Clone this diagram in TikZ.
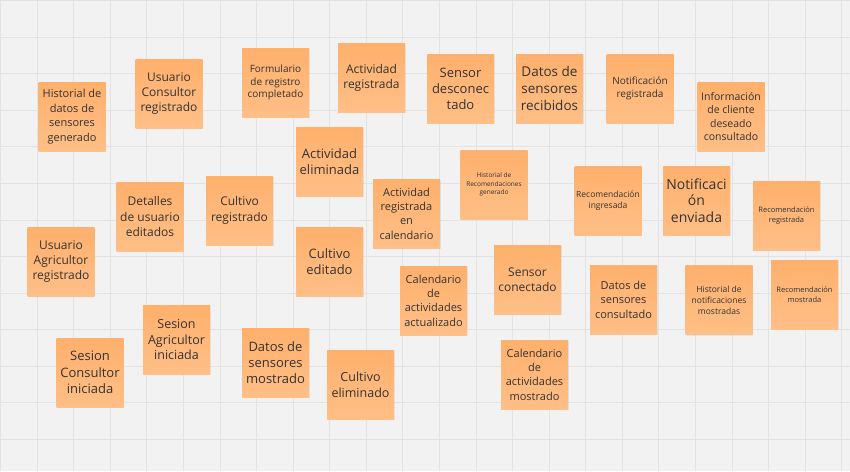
\documentclass[tikz,border=0pt]{standalone}
\usepackage{fontspec}
\setmainfont{Open Sans}
\usetikzlibrary{shadows}
\definecolor{board}{HTML}{F2F2F2}
\definecolor{gridc}{HTML}{E3E3E3}
\definecolor{notetop}{HTML}{FFB06C}
\definecolor{notebot}{HTML}{FFBF87}
\definecolor{ink}{HTML}{333333}
\newcommand{\notefont}[2]{\fontsize{#1}{#2}\selectfont}
\begin{document}
\begin{tikzpicture}[x=1pt,y=-1pt,
    note/.style={minimum width=67pt,minimum height=69pt,inner sep=1pt,align=center,
      top color=notetop,bottom color=notebot,text=ink,
      drop shadow={shadow xshift=0.6pt,shadow yshift=-1.4pt,opacity=0.12}},
    gridline/.style={draw=gridc,line width=1pt}]
    \useasboundingbox (0,0) rectangle (850,471);
    \fill[board] (0,0) rectangle (850,471);
    \foreach \k in {0,...,23}
      \draw[gridline] ({0.7+36.57*\k},0) -- ({0.7+36.57*\k},471);
    \foreach \k in {0,...,12}
      \draw[gridline] (0,{0.7+36.57*\k}) -- (850,{0.7+36.57*\k});

    \node[note,font=\notefont{11}{14.6}] (HDS) at (72,116.5) {Historial de\\datos de\\sensores\\generado};
    \node[note,font=\notefont{12}{15}] (UC) at (169,93.5) {Usuario\\Consultor\\registrado};
    \node[note,font=\notefont{10}{12.8}] (FR) at (275.5,82.5) {Formulario\\de registro\\completado};
    \node[note,font=\notefont{12}{15}] (AR) at (371.5,77.5) {Actividad\\registrada};
    \node[note,font=\notefont{13}{16.5}] (AE) at (329.5,161.5) {Actividad\\eliminada};
    \node[note,font=\notefont{13}{16}] (SD) at (460.5,88.5) {Sensor\\desconec\\tado};
    \node[note,font=\notefont{13.5}{17}] (DSR) at (549.5,88.5) {Datos de\\sensores\\recibidos};
    \node[note,font=\notefont{10}{12.5}] (NR) at (640,88.5) {Notificación\\registrada};
    \node[note,font=\notefont{10.5}{13.3}] (ICD) at (731,116.5) {Información\\de cliente\\deseado\\consultado};

    \node[note,font=\notefont{12}{15.2}] (DUE) at (150,216.5) {Detalles\\de usuario\\editados};
    \node[note,font=\notefont{12}{15}] (UA) at (61,261.5) {Usuario\\Agricultor\\registrado};
    \node[note,font=\notefont{12}{15.6}] (CR) at (239.5,210.5) {Cultivo\\registrado};
    \node[note,font=\notefont{13}{16}] (CE) at (329.5,261.5) {Cultivo\\editado};
    \node[note,font=\notefont{11}{14.3}] (ARC) at (406.5,213.5) {Actividad\\registrada\\en\\calendario};
    \node[note,font=\notefont{6.5}{8.3}] (HRG) at (494,184.5) {Historial de\\Recomendaciones\\generado};
    \node[note,font=\notefont{8.5}{10.7}] (RI) at (608,200.5) {Recomendación\\ingresada};
    \node[note,font=\notefont{14}{16.5}] (NE) at (696.5,200.5) {Notificaci\\ón\\enviada};
    \node[note,font=\notefont{7.5}{10}] (RR) at (786.5,215.5) {Recomendación\\registrada};
    \node[note,font=\notefont{8.5}{11}] (HNM) at (719,300) {Historial de\\notificaciones\\mostradas};
    \node[note,font=\notefont{7.5}{10}] (RM) at (804.5,294.5) {Recomendación\\mostrada};

    \node[note,font=\notefont{11}{14.4}] (CAA) at (433.5,300.5) {Calendario\\de\\actividades\\actualizado};
    \node[note,font=\notefont{12}{15}] (SC) at (527.5,279.5) {Sensor\\conectado};
    \node[note,font=\notefont{11}{14.5}] (DSC) at (623.5,299.5) {Datos de\\sensores\\consultado};
    \node[note,font=\notefont{11}{14.4}] (CAM) at (534.5,374.5) {Calendario\\de\\actividades\\mostrado};
    \node[note,font=\notefont{12.5}{15.7}] (SAI) at (176.5,339.5) {Sesion\\Agricultor\\iniciada};
    \node[note,font=\notefont{13}{16.3}] (SCI) at (90,372.5) {Sesion\\Consultor\\iniciada};
    \node[note,font=\notefont{13}{16.3}] (DSM) at (275.5,362.5) {Datos de\\sensores\\mostrado};
    \node[note,font=\notefont{12.5}{15.7}] (CEL) at (360.5,384.5) {Cultivo\\eliminado};
\end{tikzpicture}
\end{document}
